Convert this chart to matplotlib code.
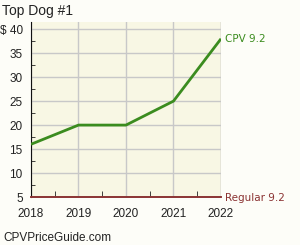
import matplotlib
matplotlib.use("Agg")
import matplotlib.pyplot as plt
from matplotlib.ticker import MultipleLocator

# data
years = [2018, 2019, 2020, 2021, 2022]
cpv_values = [16, 20, 20, 25, 38]
regular_values = [5, 5, 5, 5, 5]
y_ticks = [5, 10, 15, 20, 25, 30, 35, 40]
y_labels = ["5", "10", "15", "20", "25", "30", "35", "$ 40"]
title = "Top Dog #1"
cpv_label = "CPV 9.2"
regular_label = "Regular 9.2"
footer = "CPVPriceGuide.com"

green = "#3b8c1f"
brown = "#8b3333"
tick_font = "Liberation Sans"

fig = plt.figure(figsize=(3.0, 2.45), dpi=100, facecolor="#fdfdf8")
ax = fig.add_axes([0.1033, 0.1959, 0.6333, 0.7143])
ax.set_facecolor("#f8f7e4")

ax.plot(years, cpv_values, color=green, lw=2, solid_capstyle="butt", zorder=3)
ax.plot(years, regular_values, color=brown, lw=1.2, zorder=3, clip_on=False)

ax.set_xlim(years[0], years[-1])
ax.set_ylim(5, 41.5)
ax.set_xticks(years)
ax.set_xticklabels([str(y) for y in years], family=tick_font, fontsize=8.5,
                   color="#222222")
ax.set_yticks(y_ticks)
ax.set_yticklabels(y_labels, family=tick_font, fontsize=8.5, color="#222222")
ax.xaxis.set_minor_locator(MultipleLocator(0.5))
ax.yaxis.set_minor_locator(MultipleLocator(2.5))
ax.tick_params(axis="y", which="major", length=0, pad=6)
ax.tick_params(axis="x", which="major", length=0, pad=8)
ax.tick_params(which="minor", direction="in", length=3, color="#222222")
ax.tick_params(axis="x", which="minor", length=4)
ax.grid(True, which="major", color="#c8c8c8", lw=1)

for side in ["top", "right"]:
    ax.spines[side].set_visible(False)
ax.spines["left"].set_color("#111111")
ax.spines["bottom"].set_color(brown)
ax.spines["bottom"].set_linewidth(1.2)
ax.axvline(years[-1], color="#c8c8c8", lw=1, zorder=1)

ax.annotate(cpv_label, xy=(years[-1], cpv_values[-1]), xytext=(3, 0),
            textcoords="offset points", color=green, fontsize=7.5,
            va="center", ha="left", annotation_clip=False)
ax.annotate(regular_label, xy=(years[-1], regular_values[-1]), xytext=(3, -1),
            textcoords="offset points", color=brown, fontsize=7.5,
            va="center", ha="left", annotation_clip=False)

fig.text(0.007, 0.985, title, family="Liberation Sans", fontsize=10,
         va="top", ha="left", color="#222222")
fig.text(0.01, 0.004, footer, family="Liberation Sans", fontsize=8.5,
         va="bottom", ha="left", color="#222222")

fig.savefig("out.png", dpi=100, facecolor=fig.get_facecolor())
